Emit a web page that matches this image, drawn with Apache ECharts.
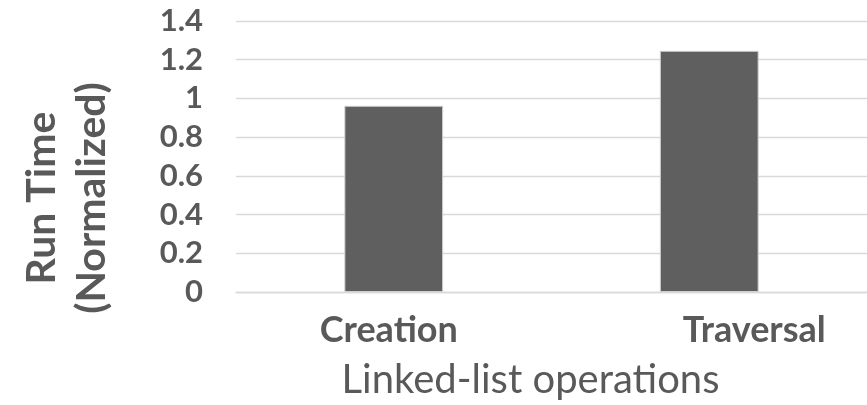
<!DOCTYPE html>
<html>
<head>
<meta charset="utf-8">
<script src="https://cdn.jsdelivr.net/npm/echarts@6/dist/echarts.min.js"></script>
<style>
html,body{margin:0;padding:0;background:#fff;}
#c{width:867px;height:405px;}
</style>
</head>
<body>
<div id="c"></div>
<script>
const categories = ['Creation', 'Traversal'];
const runTime = [0.962, 1.246];
const yTicks = { min: 0, max: 1.4, interval: 0.2 };
const xTitle = 'Linked-list operations';
const yTitle = 'Run Time\n(Normalized)';

const FONT = 'Lato';
const TXT = '#595959';
const chart = echarts.init(document.getElementById('c'), null, {renderer: 'canvas'});
chart.setOption({
  animation: false,
  grid: { left: 236, right: 0, top: 21, bottom: 113, containLabel: false, outerBoundsMode: 'none' },
  xAxis: {
    type: 'category',
    data: categories,
    axisLine: { show: true, lineStyle: { color: '#d9d9d9', width: 1.3 } },
    axisTick: { show: false },
    axisLabel: {
      margin: 20,
      formatter: function (v, i) { return i === 0 ? '{a|' + v + '}' : '{b|' + v + '}'; },
      rich: {
        a: { fontFamily: FONT, fontWeight: 'bold', fontSize: 36, color: TXT, padding: [0, 10, 0, 0] },
        b: { fontFamily: FONT, fontWeight: 'bold', fontSize: 36, color: TXT, padding: [0, 0, 0, 90] }
      }
    },
    name: xTitle,
    nameLocation: 'middle',
    nameGap: 68,
    nameTextStyle: { fontFamily: FONT, fontSize: 40, color: TXT, padding: [0, 42, 0, 0] }
  },
  yAxis: {
    type: 'value',
    min: yTicks.min, max: yTicks.max, interval: yTicks.interval,
    axisLine: { show: false },
    axisTick: { show: false },
    splitLine: { show: true, lineStyle: { color: '#d9d9d9', width: 1.3 } },
    axisLabel: { margin: 33, fontFamily: FONT, fontWeight: 'bold', fontSize: 31, color: TXT },
    name: yTitle,
    nameLocation: 'middle',
    nameRotate: 90,
    nameGap: 119,
    nameTextStyle: { fontFamily: FONT, fontWeight: 'bold', fontSize: 41, lineHeight: 50, color: TXT, padding: [0, 83, 0, 0] }
  },
  series: [{
    type: 'bar',
    data: runTime,
    barWidth: '31.3%',
    itemStyle: { color: '#5f5f5f', borderColor: '#cfcfcf', borderWidth: 1 }
  }]
});
</script>
</body>
</html>
